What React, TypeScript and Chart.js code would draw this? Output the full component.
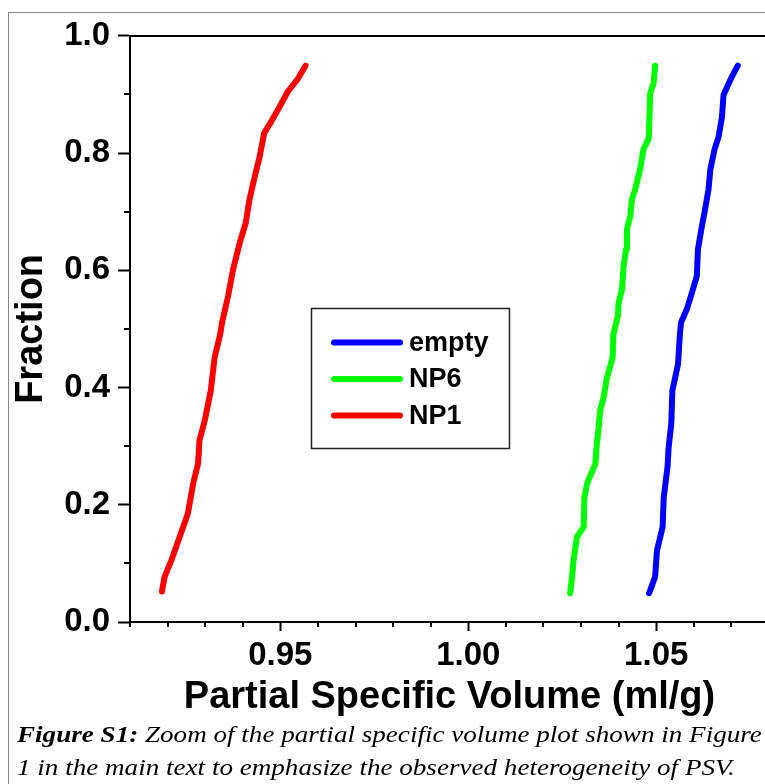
import React, { useEffect, useRef } from "react";
import { Chart, registerables } from "chart.js";

Chart.register(...registerables);

const seriesLabels = ["empty", "NP6", "NP1"];
const seriesColors = ["#0000ff", "#00ff00", "#ff0000"];

const emptyX = [1.0481, 1.0497, 1.0502, 1.0517, 1.052, 1.053, 1.0533, 1.054, 1.0543, 1.0558, 1.0563, 1.0566, 1.0581, 1.0595, 1.0608, 1.0611, 1.062, 1.063, 1.0639, 1.0644, 1.0655, 1.0666, 1.0675, 1.0679, 1.0701, 1.0717];
const emptyY = [0.049, 0.077, 0.122, 0.162, 0.213, 0.264, 0.298, 0.338, 0.395, 0.44, 0.491, 0.511, 0.533, 0.562, 0.59, 0.636, 0.67, 0.704, 0.738, 0.772, 0.806, 0.828, 0.862, 0.899, 0.93, 0.949];

const np6X = [1.0271, 1.0276, 1.028, 1.0289, 1.0307, 1.0309, 1.0316, 1.0338, 1.0342, 1.0347, 1.0351, 1.036, 1.0369, 1.0384, 1.0386, 1.0398, 1.04, 1.0409, 1.0413, 1.042, 1.0422, 1.0431, 1.0435, 1.0444, 1.0457, 1.0466, 1.048, 1.0482, 1.0484, 1.0493, 1.0497];
const np6Y = [0.049, 0.077, 0.105, 0.145, 0.162, 0.213, 0.236, 0.27, 0.304, 0.332, 0.361, 0.383, 0.417, 0.451, 0.491, 0.522, 0.545, 0.567, 0.607, 0.636, 0.67, 0.692, 0.72, 0.738, 0.772, 0.806, 0.825, 0.862, 0.902, 0.919, 0.949];

const np1X = [0.9185, 0.9192, 0.921, 0.9232, 0.9254, 0.9268, 0.9281, 0.9285, 0.9299, 0.9315, 0.9325, 0.934, 0.9345, 0.9361, 0.9374, 0.9392, 0.9408, 0.9418, 0.9432, 0.9445, 0.9457, 0.9476, 0.9498, 0.952, 0.9547, 0.9567];
const np1Y = [0.052, 0.077, 0.105, 0.145, 0.185, 0.236, 0.27, 0.31, 0.344, 0.395, 0.451, 0.491, 0.511, 0.556, 0.601, 0.647, 0.681, 0.721, 0.76, 0.794, 0.834, 0.854, 0.879, 0.905, 0.927, 0.949];

const xMin = 0.91;
const xMax = 1.08;
const yMin = 0;
const yMax = 1;
const xMajorTicks = [0.95, 1.0, 1.05];
const yMajorTicks = [0, 0.2, 0.4, 0.6, 0.8, 1.0];
const xMinorTicks = [0.91, 0.92, 0.93, 0.94, 0.96, 0.97, 0.98, 0.99, 1.01, 1.02, 1.03, 1.04, 1.06, 1.07];
const yMinorTicks = [0.1, 0.3, 0.5, 0.7, 0.9];

const xTitle = "Partial Specific Volume (ml/g)";
const yTitle = "Fraction";
const captionLead = "Figure S1:";
const captionLine1 = " Zoom of the partial specific volume plot shown in Figure";
const captionLine2 = "1 in the main text to emphasize the observed heterogeneity of PSV.";

const FONT = "'Liberation Sans', Arial, Helvetica, sans-serif";

const pts = (xs: number[], ys: number[]) => xs.map((x, i) => ({ x, y: ys[i] }));

const minorTicksPlugin = {
  id: "minorTicks",
  afterDraw(chart: any) {
    const ctx = chart.ctx;
    const xs = chart.scales.x;
    const ys = chart.scales.y;
    const area = chart.chartArea;
    ctx.save();
    ctx.strokeStyle = "#000";
    ctx.lineWidth = 2;
    ctx.beginPath();
    xMinorTicks.forEach((v) => {
      const p = Math.round(xs.getPixelForValue(v));
      ctx.moveTo(p, area.bottom);
      ctx.lineTo(p, area.bottom + 5);
    });
    yMinorTicks.forEach((v) => {
      const p = Math.round(ys.getPixelForValue(v));
      ctx.moveTo(area.left, p);
      ctx.lineTo(area.left - 6, p);
    });
    ctx.stroke();
    ctx.restore();
  },
};

const boxLegendPlugin = {
  id: "boxLegend",
  afterDraw(chart: any) {
    const ctx = chart.ctx;
    const bx = 303, by = 300, bw = 198, bh = 140;
    ctx.save();
    ctx.fillStyle = "#ffffff";
    ctx.fillRect(bx, by, bw, bh);
    ctx.strokeStyle = "#222";
    ctx.lineWidth = 1.5;
    ctx.strokeRect(bx + 0.5, by + 0.5, bw, bh);
    const rowY = [334.5, 371, 407.5];
    chart.data.datasets.forEach((ds: any, i: number) => {
      const y = rowY[i];
      ctx.strokeStyle = ds.borderColor;
      ctx.lineWidth = 6;
      ctx.lineCap = "round";
      ctx.beginPath();
      ctx.moveTo(326, y);
      ctx.lineTo(392, y);
      ctx.stroke();
      ctx.fillStyle = "#000";
      ctx.font = `bold 27px ${FONT}`;
      ctx.textBaseline = "middle";
      ctx.textAlign = "left";
      ctx.fillText(ds.label, 401, y + 1);
    });
    ctx.restore();
  },
};

function FractionChart() {
  const ref = useRef<HTMLCanvasElement | null>(null);
  useEffect(() => {
    if (!ref.current) return;
    const chart = new Chart(ref.current, {
      type: "line",
      data: {
        datasets: [
          { label: seriesLabels[0], data: pts(emptyX, emptyY), borderColor: seriesColors[0] },
          { label: seriesLabels[1], data: pts(np6X, np6Y), borderColor: seriesColors[1] },
          { label: seriesLabels[2], data: pts(np1X, np1Y), borderColor: seriesColors[2] },
        ].map((d) => ({
          ...d,
          borderWidth: 6,
          pointRadius: 0,
          fill: false,
          tension: 0,
          borderCapStyle: "round",
          borderJoinStyle: "round",
        })),
      },
      options: {
        animation: false,
        responsive: false,
        layout: { padding: { top: 26, right: 39, bottom: 0, left: 0 } },
        plugins: {
          legend: { display: false },
          tooltip: { enabled: false },
        },
        scales: {
          x: {
            type: "linear",
            position: "bottom",
            min: xMin,
            max: xMax,
            afterBuildTicks: (s: any) => {
              s.ticks = xMajorTicks.map((v) => ({ value: v }));
            },
            afterFit: (s: any) => {
              s.height = 106;
            },
            grid: { drawOnChartArea: false, drawTicks: true, tickLength: 9, tickWidth: 2, tickColor: "#000" },
            border: { display: true, color: "#000", width: 2 },
            ticks: {
              color: "#000",
              padding: 5,
              maxRotation: 0,
              autoSkip: false,
              font: { family: FONT, size: 33, weight: "bold" },
              callback: (v: any) => Number(v).toFixed(2),
            },
            title: {
              display: true,
              text: xTitle,
              color: "#000",
              font: { family: FONT, size: 38, weight: "bold" },
              padding: { top: 0, bottom: 8 },
            },
          },
          x2: {
            type: "linear",
            position: "top",
            min: xMin,
            max: xMax,
            afterFit: (s: any) => {
              s.height = 0;
            },
            grid: { drawOnChartArea: false, drawTicks: false },
            border: { display: true, color: "#000", width: 2 },
            ticks: { display: false },
          },
          y: {
            type: "linear",
            min: yMin,
            max: yMax,
            afterBuildTicks: (s: any) => {
              s.ticks = yMajorTicks.map((v) => ({ value: v }));
            },
            afterFit: (s: any) => {
              s.width = 122;
            },
            grid: { drawOnChartArea: false, drawTicks: true, tickLength: 12, tickWidth: 2, tickColor: "#000" },
            border: { display: true, color: "#000", width: 2 },
            ticks: {
              color: "#000",
              padding: 8,
              autoSkip: false,
              font: { family: FONT, size: 33, weight: "bold" },
              callback: (v: any) => Number(v).toFixed(1),
            },
            title: {
              display: true,
              text: yTitle,
              color: "#000",
              font: { family: FONT, size: 38, weight: "bold" },
              padding: { top: 1, bottom: 0 },
            },
          },
        },
      },
      plugins: [minorTicksPlugin, boxLegendPlugin],
    } as any);
    return () => chart.destroy();
  }, []);
  return (
    <canvas
      ref={ref}
      width={800}
      height={720}
      style={{ position: "absolute", left: 8, top: 8, width: 800, height: 720 }}
    />
  );
}

export default function App() {
  return (
    <div
      style={{
        position: "fixed",
        left: 0,
        top: 0,
        width: 765,
        height: 784,
        overflow: "hidden",
        background: "#fff",
      }}
    >
      <div
        style={{
          position: "absolute",
          left: 8,
          top: 12,
          width: 900,
          height: 900,
          border: "1px solid #888",
          boxSizing: "border-box",
        }}
      />
      <FractionChart />
      <div
        style={{
          position: "absolute",
          left: 17,
          top: 718,
          fontFamily: "'Liberation Serif', 'Times New Roman', serif",
          fontStyle: "italic",
          fontSize: 23,
          lineHeight: "33px",
          whiteSpace: "nowrap",
          color: "#000",
          transform: "scaleX(1.178)",
          transformOrigin: "0 0",
        }}
      >
        <b>{captionLead}</b>
        {captionLine1}
        <br />
        {captionLine2}
      </div>
    </div>
  );
}
